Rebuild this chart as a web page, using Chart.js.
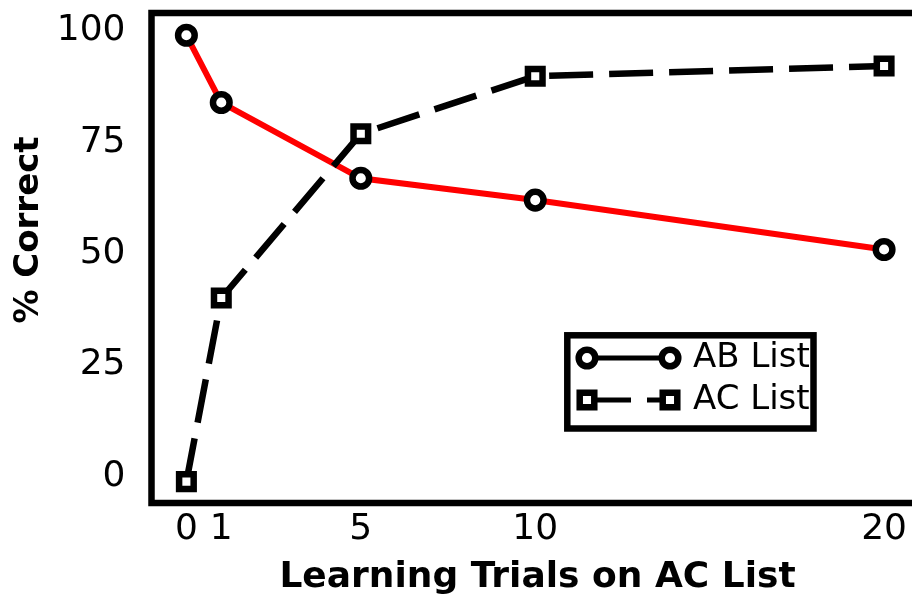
<!DOCTYPE html>
<html><head><meta charset="utf-8">
<script src="https://cdn.jsdelivr.net/npm/chart.js@4.4.1/dist/chart.umd.min.js"></script>
<style>
html,body{margin:0;padding:0;overflow:hidden;background:#fff;width:912px;height:600px}
#wrap{width:940px;height:600px}
canvas{display:block}
</style></head>
<body><div id="wrap"><canvas id="c" width="940" height="600" style="width:940px;height:600px"></canvas></div>
<script>
const trials = [0, 1, 5, 10, 20];
const abList = [99.0, 83.9, 66.9, 62.0, 50.9];
const acList = [-1.2, 40.0, 76.9, 89.8, 92.1];
const xTicks = [0, 1, 5, 10, 20];
const yTicks = [0, 25, 50, 75, 100];
const seriesLabels = ['AB List', 'AC List'];
const xTitle = 'Learning Trials on AC List';
const yTitle = '% Correct';

const FONT = 'DejaVu Sans';

const framePlugin = {
  id: 'frame',
  afterDraw(chart) {
    const {ctx, chartArea: ca} = chart;
    ctx.save();
    ctx.strokeStyle = '#000';
    ctx.lineWidth = 6.5;
    ctx.strokeRect(ca.left, ca.top, ca.right - ca.left, ca.bottom - ca.top);

    // y axis title
    ctx.translate(29, 230);
    ctx.rotate(-Math.PI / 2);
    ctx.font = 'bold 34px "' + FONT + '"';
    ctx.fillStyle = '#000';
    ctx.textAlign = 'center';
    ctx.textBaseline = 'middle';
    ctx.fillText(yTitle, 0, 0);
    ctx.restore();

    // legend
    ctx.save();
    const bx = ca.left + 415.8, by = ca.top + 322.3, bw = 246.2, bh = 93.2;
    ctx.fillStyle = '#fff';
    ctx.fillRect(bx, by, bw, bh);
    ctx.strokeStyle = '#000';
    ctx.lineWidth = 6.5;
    ctx.strokeRect(bx, by, bw, bh);
    const rows = [ca.top + 345, ca.top + 387];
    const hx1 = ca.left + 435.5, hx2 = ca.left + 518.5;
    chart.data.datasets.forEach((ds, i) => {
      const y = rows[i];
      ctx.save();
      ctx.strokeStyle = '#000';
      ctx.lineWidth = 5;
      ctx.lineCap = 'butt';
      ctx.setLineDash(ds.borderDash || []);
      ctx.beginPath();
      ctx.moveTo(hx1, y);
      ctx.lineTo(hx2, y);
      ctx.stroke();
      ctx.restore();
      [hx1, hx2].forEach(px => {
        ctx.save();
        ctx.fillStyle = ds.pointBackgroundColor;
        ctx.strokeStyle = ds.pointBorderColor;
        ctx.lineWidth = ds.pointBorderWidth;
        ctx.setLineDash([]);
        Chart.helpers.drawPoint(ctx, {pointStyle: ds.pointStyle, radius: ds.pointRadius, rotation: 0, borderWidth: ds.pointBorderWidth}, px, y);
        ctx.restore();
      });
      ctx.fillStyle = '#000';
      ctx.font = '34px "' + FONT + '"';
      ctx.textAlign = 'left';
      ctx.textBaseline = 'middle';
      ctx.fillText(seriesLabels[i], ca.left + 541.5, y);
    });
    ctx.restore();
  }
};

new Chart(document.getElementById('c'), {
  type: 'line',
  data: {
    datasets: [
      {
        label: seriesLabels[0],
        data: trials.map((x, i) => ({x: x, y: abList[i]})),
        borderColor: '#ff0000',
        borderWidth: 6,
        pointStyle: 'circle',
        pointRadius: 8.3,
        pointBorderWidth: 6.5,
        pointBorderColor: '#000',
        pointBackgroundColor: '#fff',
        tension: 0,
        order: 2
      },
      {
        label: seriesLabels[1],
        data: trials.map((x, i) => ({x: x, y: acList[i]})),
        borderColor: '#000',
        borderWidth: 6.5,
        borderDash: [44, 16],
        pointStyle: 'rect',
        pointRadius: 10.3,
        pointBorderWidth: 6.5,
        pointBorderColor: '#000',
        pointBackgroundColor: '#fff',
        tension: 0,
        order: 1
      }
    ]
  },
  options: {
    responsive: false,
    animation: false,
    devicePixelRatio: 1,
    layout: {autoPadding: false, padding: {top: 13, right: 16.5, left: 0, bottom: 0}},
    plugins: {legend: {display: false}, tooltip: {enabled: false}},
    scales: {
      x: {
        type: 'linear',
        min: -1,
        max: 21.13,
        afterBuildTicks: s => { s.ticks = xTicks.map(v => ({value: v})); },
        afterFit: s => { s.height = 97; },
        grid: {display: false, drawTicks: false},
        border: {display: false},
        ticks: {padding: 5, color: '#000', autoSkip: false, maxRotation: 0, font: {family: FONT, size: 36}},
        title: {display: true, text: xTitle, color: '#000', font: {family: FONT, size: 36, weight: 'bold'}, padding: {top: 0, bottom: 1}}
      },
      y: {
        type: 'linear',
        min: -6,
        max: 104,
        afterBuildTicks: s => { s.ticks = yTicks.map(v => ({value: v})); },
        afterFit: s => { s.width = 151.5; s.paddingTop = 0; s.paddingBottom = 0; },
        grid: {display: false, drawTicks: true, tickLength: 26},
        border: {display: false},
        ticks: {padding: 0, color: '#000', font: {family: FONT, size: 36, lineHeight: 0.3}}
      }
    }
  },
  plugins: [framePlugin]
});
</script>
</body></html>
